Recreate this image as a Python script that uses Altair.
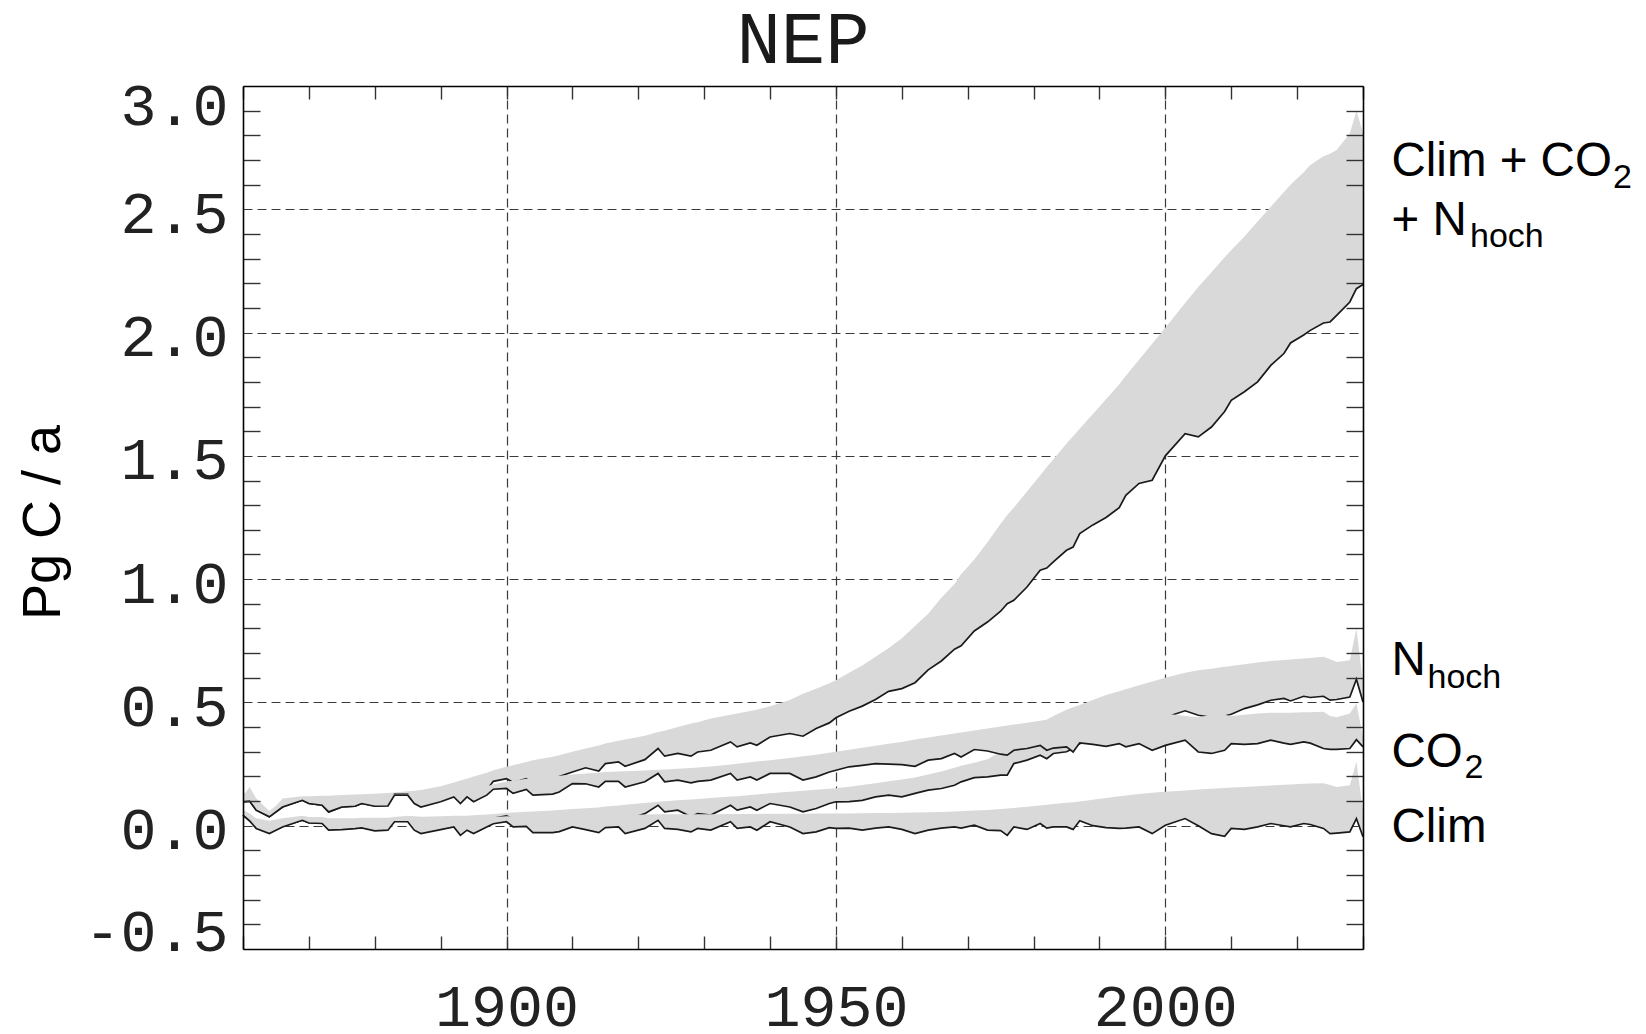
import altair as alt
import pandas as pd

# ---------------- data ----------------
years = [1860, 1861, 1862, 1864, 1866, 1869, 1870, 1872, 1873, 1875,
         1877, 1878, 1880, 1882, 1883, 1885, 1886, 1887, 1890, 1892,
         1893, 1894, 1895, 1897, 1898, 1900, 1901, 1903, 1904, 1907,
         1908, 1910, 1912, 1914, 1915, 1917, 1918, 1921, 1923, 1924,
         1926, 1928, 1929, 1931, 1934, 1935, 1937, 1938, 1940, 1943,
         1945, 1947, 1949, 1950, 1952, 1954, 1956, 1958, 1960, 1962,
         1964, 1966, 1968, 1969, 1971, 1973, 1975, 1976, 1977, 1979,
         1981, 1982, 1983, 1985, 1986, 1987, 1989, 1991, 1993, 1994,
         1996, 1998, 2000, 2003, 2005, 2007, 2009, 2010, 2012, 2014,
         2016, 2018, 2019, 2021, 2022, 2024, 2025, 2026, 2028, 2029,
         2030]

# Clim + CO2 + N_hoch
all_line = [0.097, 0.100, 0.063, 0.036, 0.076, 0.103, 0.090, 0.083, 0.056, 0.076,
            0.079, 0.090, 0.080, 0.082, 0.128, 0.128, 0.095, 0.082, 0.105, 0.125,
            0.100, 0.128, 0.110, 0.145, 0.180, 0.191, 0.175, 0.191, 0.170, 0.180,
            0.200, 0.218, 0.235, 0.222, 0.252, 0.259, 0.241, 0.268, 0.313, 0.282,
            0.293, 0.282, 0.299, 0.306, 0.340, 0.320, 0.336, 0.326, 0.360, 0.374,
            0.363, 0.394, 0.417, 0.438, 0.464, 0.485, 0.512, 0.545, 0.556, 0.580,
            0.632, 0.668, 0.716, 0.730, 0.790, 0.826, 0.870, 0.900, 0.914, 0.968,
            1.036, 1.045, 1.070, 1.117, 1.130, 1.185, 1.220, 1.250, 1.290, 1.340,
            1.388, 1.401, 1.500, 1.590, 1.577, 1.617, 1.680, 1.725, 1.760, 1.800,
            1.867, 1.915, 1.958, 1.990, 2.009, 2.039, 2.043, 2.070, 2.124, 2.178,
            2.195]
all_top = [0.120, 0.157, 0.110, 0.050, 0.110, 0.120, 0.120, 0.122, 0.122, 0.125,
           0.127, 0.128, 0.130, 0.133, 0.135, 0.140, 0.142, 0.145, 0.160, 0.175,
           0.183, 0.190, 0.200, 0.215, 0.225, 0.239, 0.245, 0.258, 0.265, 0.280,
           0.286, 0.300, 0.313, 0.325, 0.333, 0.345, 0.350, 0.365, 0.380, 0.385,
           0.400, 0.415, 0.420, 0.435, 0.450, 0.455, 0.465, 0.470, 0.485, 0.510,
           0.535, 0.555, 0.578, 0.590, 0.620, 0.650, 0.685, 0.720, 0.760, 0.810,
           0.860, 0.925, 0.980, 1.020, 1.080, 1.150, 1.225, 1.260, 1.290, 1.355,
           1.420, 1.455, 1.485, 1.550, 1.580, 1.610, 1.670, 1.730, 1.790, 1.825,
           1.890, 1.955, 2.020, 2.120, 2.185, 2.245, 2.305, 2.334, 2.390, 2.450,
           2.510, 2.570, 2.600, 2.650, 2.680, 2.715, 2.725, 2.740, 2.807, 2.900,
           2.810]

# N_hoch
nhoch_line = [0.043, 0.020, -0.005, -0.028, -0.003, 0.022, 0.012, 0.010, -0.015, -0.013,
              -0.010, -0.007, -0.017, -0.014, 0.020, 0.020, -0.012, -0.025, -0.010, 0.002,
              -0.030, -0.010, -0.020, 0.008, 0.030, 0.040, 0.028, 0.030, 0.005, 0.005,
              0.010, 0.030, 0.020, 0.015, 0.036, 0.036, 0.022, 0.049, 0.083, 0.056,
              0.063, 0.036, 0.049, 0.043, 0.083, 0.063, 0.076, 0.063, 0.090, 0.076,
              0.056, 0.070, 0.090, 0.097, 0.098, 0.103, 0.117, 0.124, 0.117, 0.131,
              0.144, 0.151, 0.164, 0.178, 0.195, 0.198, 0.205, 0.205, 0.252, 0.266,
              0.286, 0.272, 0.293, 0.300, 0.313, 0.333, 0.350, 0.370, 0.390, 0.400,
              0.415, 0.430, 0.440, 0.466, 0.448, 0.440, 0.445, 0.452, 0.475, 0.490,
              0.509, 0.516, 0.506, 0.525, 0.520, 0.525, 0.509, 0.512, 0.522, 0.594,
              0.502]
nhoch_top = [0.060, 0.050, 0.030, 0.020, 0.030, 0.040, 0.035, 0.035, 0.030, 0.030,
             0.030, 0.032, 0.032, 0.032, 0.035, 0.040, 0.038, 0.036, 0.038, 0.040,
             0.040, 0.040, 0.042, 0.045, 0.048, 0.052, 0.054, 0.057, 0.058, 0.062,
             0.064, 0.068, 0.071, 0.074, 0.078, 0.082, 0.085, 0.092, 0.097, 0.099,
             0.103, 0.106, 0.108, 0.112, 0.118, 0.120, 0.125, 0.127, 0.132, 0.138,
             0.142, 0.146, 0.150, 0.152, 0.158, 0.165, 0.172, 0.180, 0.187, 0.196,
             0.208, 0.220, 0.235, 0.243, 0.255, 0.270, 0.300, 0.320, 0.340, 0.370,
             0.410, 0.430, 0.445, 0.470, 0.480, 0.490, 0.510, 0.530, 0.545, 0.553,
             0.570, 0.585, 0.600, 0.620, 0.630, 0.637, 0.645, 0.648, 0.655, 0.662,
             0.668, 0.672, 0.674, 0.678, 0.680, 0.685, 0.675, 0.664, 0.671, 0.800,
             0.580]

# CO2
co2_line = [0.097, 0.100, 0.063, 0.036, 0.076, 0.103, 0.090, 0.083, 0.056, 0.076,
            0.079, 0.090, 0.079, 0.080, 0.124, 0.124, 0.090, 0.076, 0.097, 0.117,
            0.090, 0.117, 0.097, 0.124, 0.148, 0.151, 0.131, 0.147, 0.124, 0.128,
            0.137, 0.171, 0.170, 0.157, 0.180, 0.180, 0.157, 0.178, 0.212, 0.178,
            0.185, 0.174, 0.180, 0.185, 0.212, 0.185, 0.198, 0.185, 0.212, 0.212,
            0.185, 0.198, 0.218, 0.225, 0.239, 0.245, 0.252, 0.250, 0.248, 0.241,
            0.266, 0.272, 0.293, 0.279, 0.309, 0.303, 0.290, 0.286, 0.306, 0.313,
            0.326, 0.306, 0.315, 0.320, 0.299, 0.336, 0.330, 0.322, 0.333, 0.320,
            0.333, 0.306, 0.326, 0.347, 0.299, 0.293, 0.306, 0.333, 0.330, 0.333,
            0.347, 0.335, 0.330, 0.340, 0.335, 0.313, 0.310, 0.310, 0.313, 0.349,
            0.320]
co2_top = [0.130, 0.140, 0.110, 0.060, 0.100, 0.110, 0.110, 0.110, 0.110, 0.112,
           0.114, 0.115, 0.117, 0.120, 0.130, 0.130, 0.125, 0.125, 0.133, 0.140,
           0.143, 0.147, 0.150, 0.160, 0.168, 0.178, 0.182, 0.190, 0.193, 0.200,
           0.203, 0.208, 0.212, 0.215, 0.218, 0.220, 0.221, 0.224, 0.227, 0.228,
           0.231, 0.234, 0.236, 0.240, 0.248, 0.251, 0.257, 0.260, 0.266, 0.275,
           0.282, 0.288, 0.296, 0.300, 0.308, 0.316, 0.324, 0.332, 0.340, 0.350,
           0.358, 0.366, 0.374, 0.378, 0.386, 0.394, 0.402, 0.406, 0.410, 0.418,
           0.426, 0.430, 0.434, 0.440, 0.443, 0.446, 0.450, 0.452, 0.454, 0.455,
           0.455, 0.455, 0.455, 0.445, 0.440, 0.450, 0.450, 0.445, 0.450, 0.455,
           0.458, 0.458, 0.458, 0.460, 0.460, 0.462, 0.445, 0.440, 0.455, 0.496,
           0.360]

# Clim
clim_line = [0.043, 0.020, -0.011, -0.032, -0.005, 0.022, 0.011, 0.009, -0.018, -0.016,
             -0.012, -0.009, -0.021, -0.018, 0.016, 0.016, -0.018, -0.032, -0.016, -0.005,
             -0.039, -0.018, -0.032, -0.005, 0.008, 0.016, -0.005, -0.003, -0.028, -0.028,
             -0.024, -0.005, -0.016, -0.028, -0.008, -0.005, -0.032, -0.011, 0.022, -0.011,
             -0.015, -0.025, -0.011, -0.018, 0.016, -0.011, -0.005, -0.018, 0.016, -0.005,
             -0.032, -0.025, -0.008, -0.011, -0.010, -0.018, -0.010, -0.005, -0.015, -0.032,
             -0.018, -0.010, -0.005, -0.010, 0.002, -0.018, -0.020, -0.039, -0.005, -0.015,
             0.009, -0.010, -0.005, -0.005, -0.015, 0.020, 0.000, -0.008, -0.011, -0.010,
             -0.005, -0.032, 0.002, 0.029, 0.000, -0.032, -0.043, -0.011, -0.015, -0.005,
             0.009, 0.000, -0.005, 0.009, 0.005, -0.011, -0.032, -0.030, -0.025, 0.029,
             -0.045]
clim_top = [0.065, 0.050, 0.025, 0.000, 0.020, 0.035, 0.030, 0.030, 0.025, 0.025,
            0.025, 0.025, 0.025, 0.025, 0.030, 0.032, 0.028, 0.025, 0.028, 0.030,
            0.028, 0.030, 0.030, 0.033, 0.035, 0.038, 0.038, 0.040, 0.040, 0.040,
            0.041, 0.042, 0.043, 0.043, 0.044, 0.044, 0.044, 0.045, 0.046, 0.046,
            0.046, 0.047, 0.047, 0.047, 0.048, 0.048, 0.048, 0.048, 0.049, 0.049,
            0.049, 0.050, 0.050, 0.050, 0.050, 0.051, 0.052, 0.052, 0.053, 0.054,
            0.055, 0.056, 0.058, 0.059, 0.062, 0.064, 0.068, 0.070, 0.072, 0.077,
            0.082, 0.085, 0.088, 0.093, 0.095, 0.098, 0.105, 0.112, 0.120, 0.123,
            0.129, 0.134, 0.138, 0.143, 0.147, 0.150, 0.153, 0.155, 0.157, 0.160,
            0.163, 0.166, 0.167, 0.170, 0.171, 0.172, 0.165, 0.157, 0.164, 0.260,
            0.060]

x_labels = [1900, 1950, 2000]
y_labels = [-0.5, 0.0, 0.5, 1.0, 1.5, 2.0, 2.5, 3.0]
x_minor = list(range(1860, 2031, 10))
y_minor = [round(-0.5 + 0.1 * i, 1) for i in range(36) if i % 5]

title_text = "NEP"
y_title = "Pg C / a"
# right-hand series labels: main text, anchor value, subscript text
series_labels = ["Clim + CO", "+ N", "N", "CO", "Clim"]
series_label_y = [2.634, 2.395, 0.610, 0.237, -0.067]
sub_labels = ["2", "hoch", "hoch", "2"]

# ---------------- styling ----------------
W, H = 1120, 863
XS = alt.Scale(domain=[1860, 2030], nice=False, zero=False)
YS = alt.Scale(domain=[-0.5, 3.0], nice=False, zero=False)
BAND = "#d9d9d9"
INK = "#1a1a1a"
MONO = "Liberation Mono"
SANS = "Liberation Sans"

grid_style = dict(grid=True, gridColor="#3a3a3a", gridDash=[9, 5], gridWidth=1.2)
tick_style = dict(labels=False, grid=False, title=None, domain=True,
                  domainColor="black", domainWidth=1.6, ticks=True,
                  tickColor="#333333", tickWidth=1.4, zindex=1)

ax_x_labels = alt.Axis(orient="bottom", values=x_labels, format="d", ticks=False,
                       domain=False, labelFont=MONO, labelFontSize=60, labelColor="#222222",
                       labelPadding=29, labelFlush=False, title=None, zindex=0,
                       **grid_style)
ax_x_bottom = alt.Axis(orient="top", offset=-H, values=x_minor, tickSize=13, **tick_style)
ax_x_top = alt.Axis(orient="bottom", offset=-H, values=x_minor, tickSize=13, **tick_style)
ax_y_labels = alt.Axis(
    orient="left", values=y_labels, ticks=False, domain=False,
    labelExpr="datum.value < 0 ? '-' + format(-datum.value, '.1f') : format(datum.value, '.1f')",
    labelFont=MONO, labelFontSize=60, labelColor="#222222", labelPadding=15,
    labelFlush=False,
    labelOffset={"condition": [{"test": "datum.value >= 2.99", "value": 20},
                               {"test": "datum.value <= -0.49", "value": -17}],
                 "value": 5},
    title=y_title, titleFont=SANS, titleFontSize=54, titleFontWeight="normal",
    titleColor="black", titleAngle=270, titleAlign="center", titleBaseline="alphabetic",
    titleX=-184, titleY=436, zindex=0, **grid_style)
ax_y_left = alt.Axis(orient="right", offset=-W, values=y_minor, tickSize=17, **tick_style)
ax_y_right = alt.Axis(orient="left", offset=-W, values=y_minor, tickSize=17, **tick_style)


def frame(line, top):
    return pd.DataFrame({"year": years, "line": line, "top": top})


def band_layer(df, xa=None, ya=None):
    return alt.Chart(df).mark_area(color=BAND, opacity=1).encode(
        x=alt.X("year:Q", scale=XS, axis=xa),
        y=alt.Y("line:Q", scale=YS, axis=ya),
        y2=alt.Y2("top:Q"),
    )


def line_layer(df, xa=None, ya=None):
    return alt.Chart(df).mark_line(color=INK, strokeWidth=1.7).encode(
        x=alt.X("year:Q", scale=XS, axis=xa),
        y=alt.Y("line:Q", scale=YS, axis=ya),
    )


one = alt.Data(values=[{"k": 1}])


def text_layer(txt, yv, size, dx, dy=0):
    return alt.Chart(one).mark_text(
        text=txt, font=SANS, fontSize=size, align="left", baseline="alphabetic",
        dx=dx, dy=dy, color="black"
    ).encode(
        x=alt.XDatum(2030, scale=XS, axis=None),
        y=alt.YDatum(yv, scale=YS, axis=None),
    )


df_all = frame(all_line, all_top)
df_nh = frame(nhoch_line, nhoch_top)
df_co2 = frame(co2_line, co2_top)
df_clim = frame(clim_line, clim_top)

layers = [
    band_layer(df_all, ax_x_labels, ax_y_labels),
    line_layer(df_all, ax_x_bottom, ax_y_left),
    band_layer(df_nh, ax_x_top, ax_y_right),
    line_layer(df_nh),
    band_layer(df_co2),
    line_layer(df_co2),
    band_layer(df_clim),
    line_layer(df_clim),
]

MAIN, SUB, DX = 47.5, 34, 28.5
layers += [
    text_layer(series_labels[0], series_label_y[0], MAIN, DX),
    text_layer(sub_labels[0], series_label_y[0], SUB, 250, 12),
    text_layer(series_labels[1], series_label_y[1], MAIN, DX),
    text_layer(sub_labels[1], series_label_y[1], SUB, 107, 12),
    text_layer(series_labels[2], series_label_y[2], MAIN, DX),
    text_layer(sub_labels[2], series_label_y[2], SUB, 64.5, 13),
    text_layer(series_labels[3], series_label_y[3], MAIN, DX),
    text_layer(sub_labels[3], series_label_y[3], SUB, 101.5, 11),
    text_layer(series_labels[4], series_label_y[4], MAIN, DX),
]

title_layer = alt.Chart(one).mark_text(
    text=title_text, font=MONO, fontSize=74, align="center", baseline="alphabetic", color=INK
).encode(x=alt.value(W / 2), y=alt.value(-23))
layers.append(title_layer)

chart = alt.layer(*layers).resolve_axis(
    x="independent", y="independent"
).properties(
    width=W, height=H,
    padding={"left": 235, "top": 78, "right": 275, "bottom": 80},
    autosize=alt.AutoSizeParams(type="none"),
).configure_view(strokeWidth=0)

chart.save("out.html", embed_options={"renderer": "svg", "actions": False})
